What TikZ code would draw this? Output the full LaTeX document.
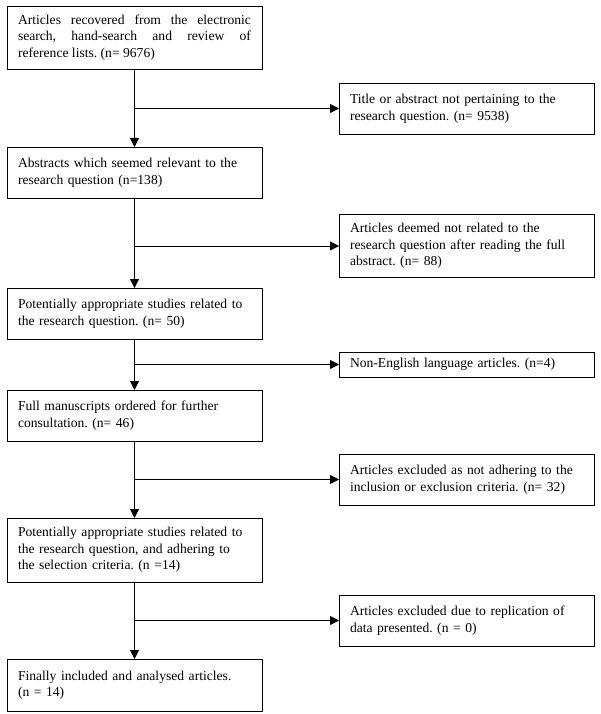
\documentclass[tikz,border=0pt]{standalone}
\usepackage{fontspec}
\setmainfont{Liberation Serif}
\usetikzlibrary{arrows.meta, positioning}

\begin{document}
\begin{tikzpicture}[>={Triangle[length=9pt, width=9pt]}, x=1pt, y=-1pt,
  box/.style={draw, line width=0.8pt, text width=233pt, inner xsep=11pt, inner ysep=0pt,
    outer sep=0pt, align=left, font=\fontsize{13.6}{16.5}\selectfont\frenchspacing},
  flow/.style={line width=0.8pt}]
  \useasboundingbox (0,0) rectangle (600,714);

  % main column
  \node[box, align=justify, minimum height=63pt, anchor=north west] (l1) at (7,6)
    {Articles recovered from the electronic\linebreak search, hand-search and review of\linebreak reference lists. (n= 9676)};
  \node[box, minimum height=51pt, below=78pt of l1] (l2)
    {Abstracts which seemed relevant to the\\ research question (n=138)};
  \node[box, minimum height=51pt, below=90pt of l2] (l3)
    {Potentially appropriate studies related to\\ the research question. (n= 50)};
  \node[box, minimum height=51pt, below=51pt of l3] (l4)
    {Full manuscripts ordered for further\\ consultation. (n= 46)};
  \node[box, minimum height=64pt, below=77pt of l4] (l5)
    {Potentially appropriate studies related to\\ the research question, and adhering to\\ the selection criteria. (n =14)};
  \node[box, minimum height=52pt, below=77pt of l5] (l6)
    {Finally included and analysed articles.\\ (n = 14)};

  % excluded
  \node[box, minimum height=51pt, anchor=west] (r1) at (339,108.5)
    {Title or abstract not pertaining to the\\ research question. (n= 9538)};
  \node[box, minimum height=63pt, anchor=west] (r2) at (339,246)
    {Articles deemed not related to the\\ research question after reading the full\\ abstract. (n= 88)};
  \node[box, minimum height=25pt, anchor=west] (r3) at (339,364.5)
    {Non-English language articles. (n=4)};
  \node[box, minimum height=51pt, anchor=west] (r4) at (339,479.5)
    {Articles excluded as not adhering to the\\ inclusion or exclusion criteria. (n= 32)};
  \node[box, minimum height=51pt, anchor=west] (r5) at (339,620.5)
    {Articles excluded due to replication of\\ data presented. (n = 0)};

  \foreach \a/\b [count=\i] in {l1/l2, l2/l3, l3/l4, l4/l5, l5/l6} {
    \draw[flow, ->] (\a) -- (\b);
    \coordinate (j\i) at (\a.south |- r\i.west);
    \draw[flow, ->] (j\i) -- (r\i);
  }
\end{tikzpicture}
\end{document}
